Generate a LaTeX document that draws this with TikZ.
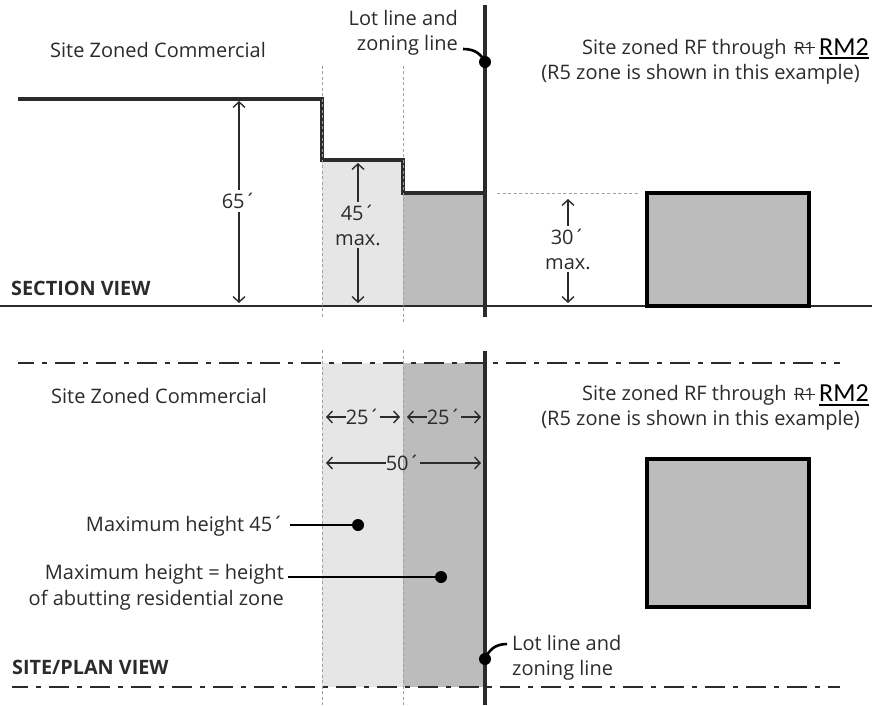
\documentclass[tikz,border=0pt]{standalone}
\usepackage{fontspec}
\setmainfont{Open Sans}
\newfontfamily\rmfnt{Carlito}
\usetikzlibrary{arrows.meta}
\definecolor{ink}{HTML}{2B2B2B}
\definecolor{lightz}{HTML}{E6E6E6}
\definecolor{darkz}{HTML}{BCBCBC}
\tikzset{
 lab/.style={font=\fontsize{20}{20}\selectfont, text=ink, inner sep=0pt, align=center},
 labr/.style={lab, align=right},
 head/.style={font=\fontsize{19.8}{20}\selectfont\bfseries, text=ink, inner sep=0pt},
 dimup/.style={line width=1.4pt, draw=ink, {Straight Barb[length=5.5pt,width=12pt]}-},
 dimdn/.style={line width=1.4pt, draw=ink, -{Straight Barb[length=5.5pt,width=12pt]}},
 guide/.style={line width=.8pt, draw=gray!75, dash pattern=on 3pt off 2.5pt},
 lotline/.style={line width=4.4pt, draw=ink},
 profile/.style={line width=4pt, draw=ink, line join=miter},
 ground/.style={line width=1.8pt, draw=ink},
 centerline/.style={line width=1.8pt, draw=ink, dash pattern=on 20pt off 8pt on 5pt off 8pt, dash phase=4pt},
 leader/.style={line width=2.6pt, draw=black},
 dot/.style={circle, fill=black, inner sep=0pt, minimum size=12pt},
 bldg/.style={line width=3.8pt, draw=black, fill=darkz},
}
\begin{document}
\begin{tikzpicture}[x=1pt,y=-1pt]
\useasboundingbox (0,0) rectangle (872,706);
% fills
\fill[lightz] (322,160) rectangle (403,306);
\fill[darkz] (403,193) rectangle (485,306);
\fill[lightz] (322,363) rectangle (403,687);
\fill[darkz] (403,363) rectangle (485,687);
% ground, centre lines
\coordinate (gl) at (0,306); \coordinate (gr) at (872,306);
\draw[ground] (gl) -- (gr);
\coordinate (c1l) at (18,363); \coordinate (c1r) at (840,363);
\coordinate (c2l) at (12,687); \coordinate (c2r) at (840,687);
\draw[centerline] (c1l) -- (c1r);
\draw[centerline] (c2l) -- (c2r);
% profile
\coordinate (p0) at (18,99); \coordinate (p1) at (322,99); \coordinate (p2) at (322,160);
\coordinate (p3) at (403,160); \coordinate (p4) at (403,193); \coordinate (p5) at (485,193);
\draw[profile] (p0) -- (p1) -- (p2) -- (p3) -- (p4) -- (p5);
% guides
\coordinate (g1a) at (322,66); \coordinate (g1b) at (322,318);
\coordinate (g2a) at (403,66); \coordinate (g2b) at (403,322);
\coordinate (g3a) at (322,350); \coordinate (g3b) at (322,706);
\coordinate (g4a) at (403,350); \coordinate (g4b) at (403,706);
\coordinate (g5a) at (497,193); \coordinate (g5b) at (640,193);
\foreach \a/\b in {g1a/g1b,g2a/g2b,g3a/g3b,g4a/g4b,g5a/g5b} \draw[guide] (\a) -- (\b);
% buildings
\path[bldg] (647,193) rectangle (809,306);
\path[bldg] (647,459) rectangle (809,607);
% lot lines
\coordinate (l1a) at (485,5); \coordinate (l1b) at (485,317);
\coordinate (l2a) at (485,351); \coordinate (l2b) at (485,705);
\draw[lotline] (l1a) -- (l1b);
\draw[lotline] (l2a) -- (l2b);
% top texts
\node[lab, anchor=west] (szc1) at (50,50) {Site Zoned Commercial};
\node[labr, anchor=east] (lot1) at (458,33) {Lot line and\\[5pt]zoning line};
\node[dot] (d1) at (485,62) {};
\draw[leader] (463,49) .. controls (475,49) and (481,54) .. (d1.center);
\node[lab, anchor=west] (sz1a) at (582,49) {Site zoned RF through};
\node[lab, anchor=west, font=\fontsize{17}{17}\selectfont] (r1a) at (794,48) {R1};
\draw[line width=1pt, draw=ink] (r1a.west) -- (r1a.east);
\node[lab, anchor=west, font=\rmfnt\fontsize{26}{26}\selectfont, text=black] (rm1) at (819,47) {RM2};
\coordinate (u1l) at (rm1.west |- 0,58); \coordinate (u1r) at (rm1.east |- 0,58);
\draw[line width=2pt] (u1l) -- (u1r);
\node[lab, anchor=east] (ex1) at (860,74) {(R5 zone is shown in this example)};
\node[head, anchor=west] (sec) at (11,288) {SECTION VIEW};
% section dimensions
\node[lab] (d65) at (239,201) {65´};
\coordinate (a1t) at (239,101); \coordinate (a1b) at (239,303);
\draw[dimup, shorten >=3pt] (a1t) -- (d65.north);
\draw[dimdn, shorten <=3pt] (d65.south) -- (a1b);
\node[lab] (d45) at (358,225) {45´\\[5pt]max.};
\coordinate (a2t) at (358,163); \coordinate (a2b) at (358,303);
\draw[dimup, shorten >=2pt] (a2t) -- (d45.north);
\draw[dimdn, shorten <=2pt] (d45.south) -- (a2b);
\node[lab] (d30) at (568,249) {30´\\[5pt]max.};
\coordinate (a3t) at (568,199); \coordinate (a3b) at (568,303);
\draw[dimup, shorten >=2pt] (a3t) -- (d30.north);
\draw[dimdn, shorten <=2pt] (d30.south) -- (a3b);
% plan texts
\node[lab, anchor=west] (szc2) at (51,396) {Site Zoned Commercial};
\node[lab, anchor=west] (sz2a) at (582,395) {Site zoned RF through};
\node[lab, anchor=west, font=\fontsize{17}{17}\selectfont] (r1b) at (794,394) {R1};
\draw[line width=1pt, draw=ink] (r1b.west) -- (r1b.east);
\node[lab, anchor=west, font=\rmfnt\fontsize{26}{26}\selectfont, text=black] (rm2) at (819,393) {RM2};
\coordinate (u2l) at (rm2.west |- 0,405); \coordinate (u2r) at (rm2.east |- 0,405);
\draw[line width=2pt] (u2l) -- (u2r);
\node[lab, anchor=east] (ex2) at (860,420) {(R5 zone is shown in this example)};
% plan dimensions
\node[lab] (w1) at (363,417) {25´};
\coordinate (w1l) at (326,417); \coordinate (w1r) at (400,417);
\draw[dimup] (w1l) -- (w1.west);
\draw[dimdn] (w1.east) -- (w1r);
\node[lab] (w2) at (444,417) {25´};
\coordinate (w2l) at (407,417); \coordinate (w2r) at (481,417);
\draw[dimup] (w2l) -- (w2.west);
\draw[dimdn] (w2.east) -- (w2r);
\node[lab] (w3) at (403,463) {50´};
\coordinate (w3l) at (326,463); \coordinate (w3r) at (481,463);
\draw[dimup] (w3l) -- (w3.west);
\draw[dimdn] (w3.east) -- (w3r);
% leaders
\node[labr, anchor=east] (m45) at (284,526) {Maximum height 45´};
\node[dot] (d45p) at (358,525) {};
\coordinate (m45s) at (290,525);
\draw[leader] (m45s) -- (d45p.center);
\node[labr, anchor=north east] (meq) at (284,564) {Maximum height = height\\[5pt]of abutting residential zone};
\node[dot] (deq) at (441,577) {};
\coordinate (meqs) at (288,577);
\draw[leader] (meqs) -- (deq.center);
\node[lab, align=left, anchor=west] (lot2) at (512,658) {Lot line and\\[5pt]zoning line};
\node[dot] (d2) at (485,659) {};
\draw[leader] (507,644) .. controls (495,644) and (489,650) .. (d2.center);
\node[head, anchor=west] (plan) at (12,667) {SITE/PLAN VIEW};
\end{tikzpicture}
\end{document}
